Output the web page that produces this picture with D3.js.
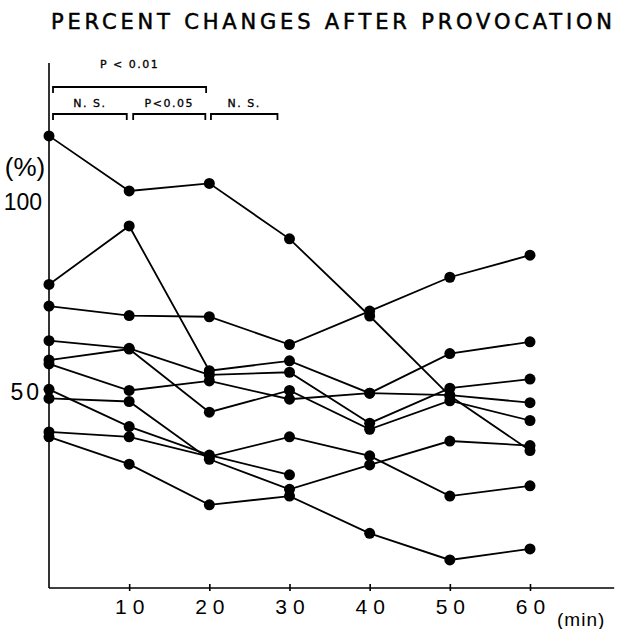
<!DOCTYPE html>
<html>
<head>
<meta charset="utf-8">
<script src="https://cdn.jsdelivr.net/npm/d3@7"></script>
<style>
  body { margin: 0; background: #fff; }
  svg { display: block; }
  .mark-line { fill: none; stroke: #000; stroke-width: 1.8; }
  .dot { fill: #000; }
  .axis path, .axis line { stroke: #000; stroke-width: 1.6; }
  text { fill: #000; }
</style>
</head>
<body>
<svg id="chart" width="620" height="629"></svg>
<script>
// time points (min)
const minutes = [0, 10, 20, 30, 40, 50, 60];

// percent change per subject (null = no value)
const subject1  = [117.4, 102.9, 104.9, 90.3, 70.0, 49.0, 34.6];
const subject2  = [78.3, 93.7, 55.6, 58.2, 49.7, 60.1, 63.2];
const subject3  = [72.6, 70.1, 69.8, 62.5, 71.3, 80.2, 86.0];
const subject4  = [63.5, 61.5, 54.5, 55.2, 41.8, 51.0, 53.4];
const subject5  = [58.4, 61.3, 44.7, 50.4, 40.2, 47.7, 42.5];
const subject6  = [57.4, 50.4, 52.9, 48.1, 49.7, 49.2, 47.2];
const subject7  = [50.7, 40.9, 33.4, 28.2, null, null, null];
const subject8  = [48.3, 47.5, 32.3, 24.4, 30.8, 37.1, 35.9];
const subject9  = [39.5, 38.2, 33.0, 38.2, 33.2, 22.6, 25.3];
const subject10 = [38.2, 31.0, 20.3, 22.6, 12.8, 5.8, 8.7];

const subjects = [subject1, subject2, subject3, subject4, subject5,
                  subject6, subject7, subject8, subject9, subject10];

const xTicks = [10, 20, 30, 40, 50, 60];
const yTicks = [50, 100];

// significance brackets: [from min, to min, label]
const upperBrackets = [[0.5, 19.6, 'P < 0.01']];
const lowerBrackets = [[0.5, 9.7, 'N. S.'], [10.5, 19.5, 'P<0.05'], [20.2, 28.5, 'N. S.']];

const svg = d3.select('#chart');

const x = d3.scaleLinear().domain([0, 60]).range([49, 530]);
const y = d3.scaleLinear().domain([0, 100]).range([582, 202]);

const xMax = 70.5;   // axis runs past last tick
const yMin = y.invert(588), yMax = y.invert(63);

// title
svg.append('text')
    .attr('x', 51).attr('y', 29)
    .attr('textLength', 561).attr('lengthAdjust', 'spacing')
    .style('font-family', '"DejaVu Sans", sans-serif')
    .style('font-size', '21px')
    .style('stroke', '#000').style('stroke-width', 0.5)
    .text('PERCENT CHANGES AFTER PROVOCATION');

// x axis
const xAxis = svg.append('g')
    .attr('class', 'axis')
    .attr('transform', `translate(0,${y(yMin)})`)
    .call(d3.axisBottom(x).tickValues(xTicks).tickSize(3).tickPadding(8)
        .tickFormat(d => d));
xAxis.select('.domain').attr('d', `M${x(0)},0H${x(xMax)}`);
xAxis.selectAll('.tick line').attr('y1', -4).attr('y2', 3);
xAxis.selectAll('.tick text')
    .style('font-family', '"Liberation Sans Narrow", "Liberation Sans", sans-serif')
    .style('font-size', '21px')
    .style('letter-spacing', '6px')
    .attr('dx', '3px');

svg.append('text')
    .attr('x', 557).attr('y', 626)
    .style('font-family', '"Liberation Sans Narrow", "Liberation Sans", sans-serif')
    .style('font-size', '19px')
    .style('letter-spacing', '1px')
    .text('(min)');

// y axis
const yAxis = svg.append('g')
    .attr('class', 'axis')
    .attr('transform', `translate(${x(0)},0)`)
    .call(d3.axisLeft(y).tickValues(yTicks).tickSize(0).tickPadding(7));
yAxis.select('.domain').attr('d', `M0,${y(yMax)}V${y(yMin)}`);
yAxis.selectAll('.tick text')
    .style('font-family', '"Liberation Sans Narrow", "Liberation Sans", sans-serif')
    .style('font-size', '23px')
    .style('letter-spacing', d => d === 50 ? '3px' : '0px');

svg.append('text')
    .attr('x', 25).attr('y', 176)
    .attr('text-anchor', 'middle')
    .style('font-family', '"Liberation Sans", sans-serif')
    .style('font-size', '26px')
    .text('(%)');

// brackets
function drawBrackets(list, lineY, textY) {
    const g = svg.append('g');
    g.selectAll('path')
        .data(list)
        .join('path')
        .attr('class', 'mark-line')
        .attr('stroke-width', 1.4)
        .attr('d', d => `M${x(d[0])},${lineY + 6}V${lineY}H${x(d[1])}V${lineY + 6}`);
    g.selectAll('text')
        .data(list)
        .join('text')
        .attr('x', d => (x(d[0]) + x(d[1])) / 2)
        .attr('y', textY)
        .attr('text-anchor', 'middle')
        .style('font-family', '"DejaVu Sans", sans-serif')
        .style('font-size', '11px')
        .style('letter-spacing', '1.5px')
        .style('stroke', '#000').style('stroke-width', 0.3)
        .text(d => d[2]);
}
drawBrackets(upperBrackets, 87, 68);
drawBrackets(lowerBrackets, 114, 107);

// lines + dots
const line = d3.line()
    .defined(d => d[1] != null)
    .x(d => x(d[0]))
    .y(d => y(d[1]));

const series = subjects.map(vals => vals.map((v, i) => [minutes[i], v]));

svg.append('g').selectAll('path')
    .data(series)
    .join('path')
    .attr('class', 'mark-line')
    .attr('d', line);

svg.append('g').selectAll('circle')
    .data(series.flat().filter(d => d[1] != null))
    .join('circle')
    .attr('class', 'dot')
    .attr('cx', d => x(d[0]))
    .attr('cy', d => y(d[1]))
    .attr('r', 5.5);
</script>
</body>
</html>
